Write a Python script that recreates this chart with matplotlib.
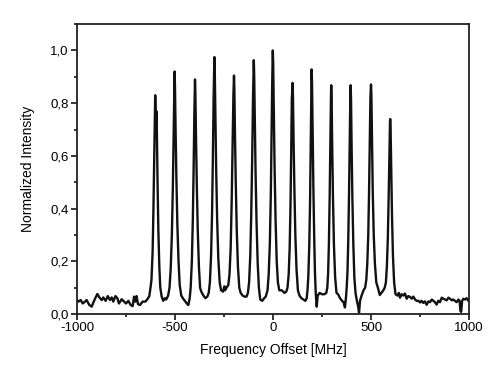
import matplotlib
matplotlib.use("Agg")
import matplotlib.pyplot as plt
from matplotlib.ticker import FixedLocator, MultipleLocator

plt.rcParams['font.family'] = ['Liberation Sans', 'DejaVu Sans']

# ---- data ----
# noise floor left of the comb
left_x = [-1000, -993, -981, -971, -959, -951, -937, -925, -917, -903, -896, -886, -874,
          -866, -854, -843, -832, -823, -815, -804, -794, -786, -772, -760, -750, -738,
          -726, -716, -709, -702, -696, -689, -679, -665, -651, -641, -631]
left_y = [0.053, 0.047, 0.053, 0.040, 0.047, 0.053, 0.034, 0.028, 0.043, 0.066, 0.076,
          0.063, 0.053, 0.063, 0.050, 0.068, 0.053, 0.063, 0.047, 0.068, 0.060, 0.040,
          0.056, 0.047, 0.040, 0.050, 0.034, 0.030, 0.066, 0.047, 0.068, 0.038, 0.034,
          0.047, 0.047, 0.056, 0.068]

# comb region (13 lines, -600 ... +600 MHz)
comb_x = [-625, -620, -614, -610, -606, -603, -601, -599, -597, -595, -593, -589, -585,
          -580, -575, -568, -560, -552, -545,
          -535, -528, -522, -516, -511, -507, -504, -502, -500, -497, -493, -488, -482,
          -476, -468, -460, -450, -440, -432,
          -425, -420, -414, -409, -405, -401, -398, -396, -393, -389, -384, -378, -372,
          -366, -355, -345, -335,
          -328, -322, -316, -311, -307, -303, -299, -297, -294, -290, -285, -279, -272,
          -265, -255, -248, -245, -237,
          -228, -222, -216, -211, -206, -202, -199, -197, -194, -190, -185, -179, -172,
          -165, -155, -145, -135,
          -128, -122, -116, -111, -106, -102, -98, -96, -93, -89, -84, -78, -72,
          -65, -55, -45, -37,
          -28, -22, -16, -11, -7, -4, -1, 1, 4, 8, 13, 19, 25,
          32, 45, 58, 68,
          74, 80, 85, 89, 93, 96, 97, 98, 100, 102, 105, 109, 114, 120, 127,
          135, 145, 155, 165, 172,
          176, 180, 185, 189, 192, 195, 197, 199, 202, 206, 210, 214, 218,
          223, 228, 238, 250, 262, 272,
          277, 281, 285, 289, 293, 296, 297, 299, 302, 306, 311, 317, 324,
          332, 342, 352, 360, 367, 372,
          376, 380, 384, 388, 392, 395, 396, 398, 401, 405, 410, 415, 421,
          428, 434, 439, 444, 452, 462, 470,
          476, 481, 486, 490, 494, 497, 500, 502, 505, 509, 514, 520, 527,
          535, 545, 553, 563, 570,
          576, 581, 586, 590, 594, 597, 598, 600, 603, 607, 612, 618]
comb_y = [0.10, 0.13, 0.24, 0.40, 0.60, 0.76, 0.83, 0.78, 0.72, 0.77, 0.72, 0.50, 0.32,
          0.18, 0.10, 0.066, 0.05, 0.06, 0.055,
          0.07, 0.10, 0.17, 0.30, 0.48, 0.68, 0.85, 0.92, 0.86, 0.70, 0.52, 0.34, 0.20,
          0.11, 0.07, 0.06, 0.05, 0.04, 0.034,
          0.06, 0.10, 0.20, 0.36, 0.55, 0.77, 0.89, 0.84, 0.68, 0.50, 0.32, 0.18, 0.10,
          0.085, 0.07, 0.06, 0.066,
          0.08, 0.12, 0.22, 0.38, 0.58, 0.82, 0.975, 0.92, 0.75, 0.55, 0.36, 0.21, 0.12,
          0.09, 0.085, 0.105, 0.09, 0.10,
          0.11, 0.15, 0.25, 0.42, 0.64, 0.83, 0.905, 0.85, 0.68, 0.50, 0.32, 0.18, 0.10,
          0.08, 0.07, 0.066, 0.066,
          0.08, 0.12, 0.22, 0.38, 0.60, 0.82, 0.963, 0.91, 0.74, 0.54, 0.35, 0.19, 0.10,
          0.055, 0.05, 0.06, 0.066,
          0.09, 0.15, 0.27, 0.46, 0.70, 0.88, 1.0, 0.95, 0.78, 0.56, 0.36, 0.20, 0.12,
          0.09, 0.09, 0.08, 0.085,
          0.10, 0.15, 0.25, 0.40, 0.62, 0.82, 0.83, 0.85, 0.877, 0.82, 0.66, 0.48, 0.30,
          0.17, 0.09,
          0.07, 0.06, 0.055, 0.05, 0.06,
          0.09, 0.14, 0.26, 0.42, 0.62, 0.84, 0.928, 0.88, 0.70, 0.48, 0.30, 0.16, 0.08,
          0.028, 0.07, 0.08, 0.075, 0.075, 0.08,
          0.10, 0.15, 0.26, 0.44, 0.68, 0.84, 0.868, 0.82, 0.64, 0.44, 0.26, 0.14, 0.08,
          0.075, 0.06, 0.05, 0.045, 0.025, 0.06,
          0.10, 0.16, 0.28, 0.46, 0.70, 0.85, 0.868, 0.82, 0.64, 0.44, 0.26, 0.14, 0.08,
          0.05, 0.03, 0.005, 0.05, 0.07, 0.09, 0.10,
          0.13, 0.19, 0.30, 0.46, 0.66, 0.82, 0.871, 0.83, 0.66, 0.46, 0.30, 0.19, 0.12,
          0.10, 0.072, 0.08, 0.09, 0.10,
          0.12, 0.18, 0.29, 0.44, 0.62, 0.73, 0.74, 0.70, 0.56, 0.38, 0.22, 0.12]

# noise floor right of the comb
right_x = [625, 635, 642, 648, 656, 665, 673, 682, 690, 699, 708, 716, 725, 733, 742, 750,
           758, 767, 775, 784, 793, 801, 810, 818, 826, 835, 843, 852, 861, 869, 878, 886,
           895, 903, 912, 920, 928, 937, 946, 952, 956, 960, 965, 971, 980, 988, 997, 1000]
right_y = [0.075, 0.070, 0.080, 0.062, 0.075, 0.070, 0.078, 0.058, 0.068, 0.065, 0.058,
           0.066, 0.055, 0.050, 0.050, 0.044, 0.050, 0.042, 0.048, 0.035, 0.048, 0.045,
           0.055, 0.050, 0.045, 0.036, 0.050, 0.045, 0.062, 0.058, 0.055, 0.052, 0.062,
           0.058, 0.052, 0.055, 0.050, 0.045, 0.055, 0.050, 0.012, 0.008, 0.050, 0.058,
           0.055, 0.060, 0.050, 0.050]

x_ticks = [-1000, -500, 0, 500, 1000]
x_tick_labels = ["-1000", "-500", "0", "500", "1000"]
y_ticks = [0.0, 0.2, 0.4, 0.6, 0.8, 1.0]
y_tick_labels = ["0,0", "0,2", "0,4", "0,6", "0,8", "1,0"]

# ---- plot ----
fig = plt.figure(figsize=(5.0, 3.71), dpi=100)
ax = fig.add_axes([0.154, 0.1536, 0.784, 0.7814])

trace_x = left_x + comb_x + right_x
trace_y = left_y + comb_y + right_y
ax.plot(trace_x, trace_y, color='#111111', lw=1.7, solid_joinstyle='round')

ax.set_xlim(-1000, 1000)
ax.set_ylim(0.0, 1.1)
ax.xaxis.set_major_locator(FixedLocator(x_ticks))
ax.set_xticklabels(x_tick_labels)
ax.xaxis.set_minor_locator(MultipleLocator(250))
ax.yaxis.set_major_locator(FixedLocator(y_ticks))
ax.set_yticklabels(y_tick_labels)
ax.yaxis.set_minor_locator(MultipleLocator(0.1))

for s in ax.spines.values():
    s.set_linewidth(1.3)
    s.set_color('#222222')
ax.tick_params(which='both', direction='out', top=False, right=False, width=1.1,
               labelsize=9.5, colors='black')
ax.tick_params(which='major', length=4, pad=2)
ax.tick_params(which='minor', length=2.5)

ax.set_xlabel("Frequency Offset [MHz]", fontsize=10, labelpad=6)
ax.set_ylabel("Normalized Intensity", fontsize=10, labelpad=11)

fig.savefig("out.png", dpi=100)
